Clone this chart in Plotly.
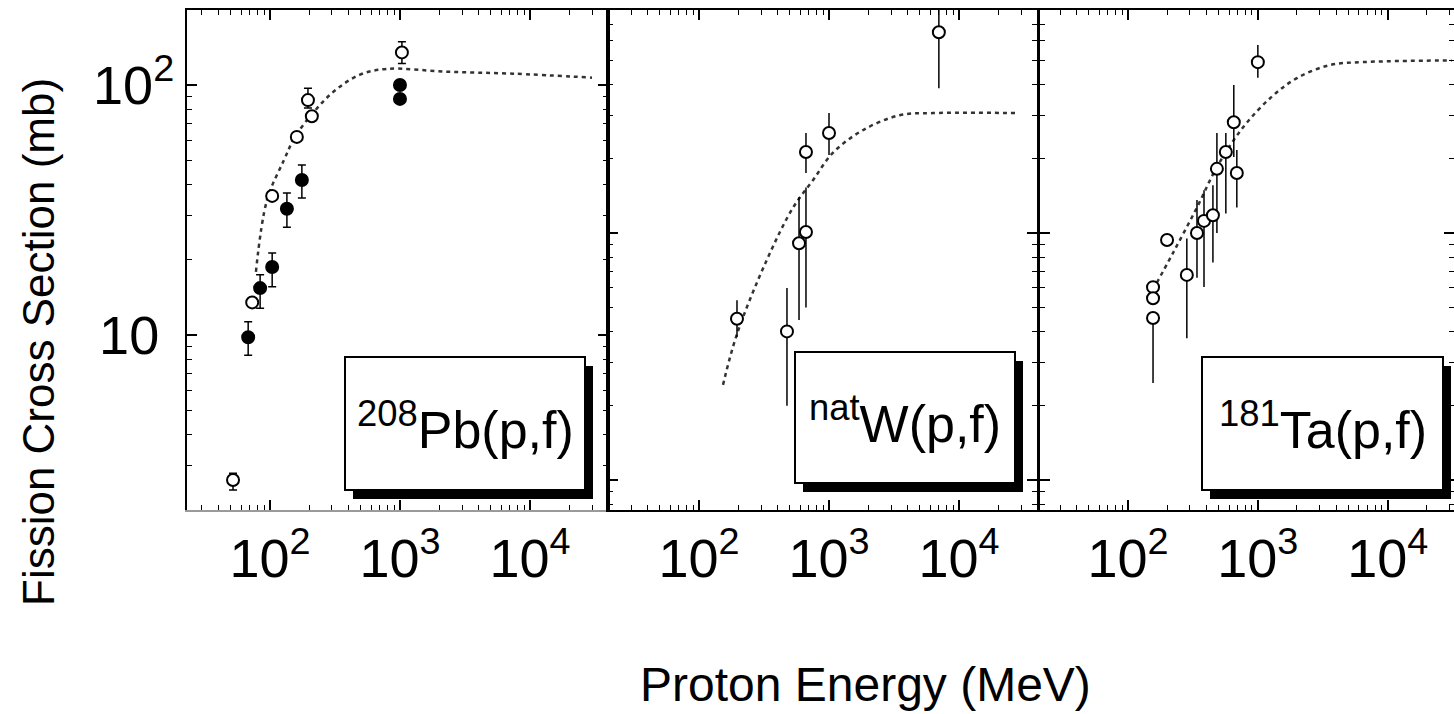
import plotly.graph_objects as go

# -- Data --------------------------------------------------------------------
# 208Pb(p,f): open and filled symbols, with error-bar ends, plus the calculation
PB_OPEN_E  = [52, 73, 104, 161, 196, 210, 1035]
PB_OPEN_S  = [2.63, 13.5, 36, 62, 87, 75, 135]
PB_OPEN_HI = [2.8, 13.5, 36, 62, 97, 75, 149]
PB_OPEN_LO = [2.4, 13.5, 36, 62, 81, 75, 122]

PB_FILL_E  = [68, 84, 104, 135, 176, 1000, 1000]
PB_FILL_S  = [9.8, 15.4, 18.7, 32, 41.7, 100, 88]
PB_FILL_HI = [11.3, 17.4, 21.3, 37, 47.9, 100, 88]
PB_FILL_LO = [8.3, 12.8, 15.6, 27, 35.3, 100, 88]

PB_CALC_E  = [78, 95, 128, 156, 222, 316, 493, 794, 2300, 7400, 30000]
PB_CALC_S  = [17.9, 34.7, 50, 62, 79, 95, 110, 116, 113, 111, 107]

# natW(p,f)
W_E  = [196, 475, 588, 665, 665, 1000, 7000]
W_S  = [4.5, 4.0, 9.1, 10.1, 21.3, 25.4, 65]
W_HI = [5.35, 6.0, 14.0, 15.3, 25.4, 30.6, 80]
W_LO = [3.8, 2.0, 4.45, 5.0, 17.5, 20.7, 38.6]

W_CALC_E = [153, 196, 333, 530, 755, 1070, 1800, 3500, 6300, 28000]
W_CALC_S = [2.43, 3.9, 7.8, 12.7, 16.4, 21.1, 26, 30, 30.6, 30.6]

# 181Ta(p,f)
TA_E  = [156, 156, 156, 200, 284, 340, 385, 451, 484, 567, 653, 689, 1000]
TA_S  = [6.04, 5.45, 4.53, 9.37, 6.77, 10.0, 11.2, 11.8, 18.2, 21.3, 28.1, 17.5, 49.2]
TA_HI = [6.04, 5.45, 4.53, 9.37, 9.5, 13.6, 14.9, 15.6, 25.4, 25.4, 39.8, 21.7, 57.7]
TA_LO = [6.04, 5.45, 2.47, 9.37, 3.75, 6.6, 6.05, 7.6, 10.0, 12.0, 20.3, 12.7, 42.5]

TA_CALC_E = [156, 222, 340, 484, 770, 1270, 2000, 3600, 6400, 31000]
TA_CALC_S = [5.9, 8.3, 12.7, 18.5, 26.8, 35.5, 42.4, 47.9, 49.2, 50]

LABELS = ["<sup>208</sup>Pb(p,f)", "<sup>nat</sup>W(p,f)", "<sup>181</sup>Ta(p,f)"]

X_TICKS     = [100, 1000, 10000]
X_TICK_TEXT = ["10<sup>2</sup>", "10<sup>3</sup>", "10<sup>4</sup>"]
Y_TICK_TEXT = ["10&nbsp;", "10<sup>2</sup>"]

# -- Style --------------------------------------------------------------------
W, H = 1454, 714
FONT = "Liberation Sans, Arial, sans-serif"
INK = "#000000"


def px_x(x):
    return x / W


def px_y(y):
    return 1 - y / H


def minor_vals(lo, hi):
    return [m * 10 ** d for d in range(lo, hi) for m in range(2, 10)]


def errs(s, hi, lo):
    return [h - v for v, h in zip(s, hi)], [v - l for v, l in zip(s, lo)]


fig = go.Figure()


def add_points(x, y, hi, lo, filled, xa, ya, cap):
    plus, minus = errs(y, hi, lo)
    fig.add_trace(go.Scatter(
        x=x, y=y, mode="markers", xaxis=xa, yaxis=ya,
        marker=dict(size=12, color=INK if filled else "white",
                    line=dict(color=INK, width=2)),
        error_y=dict(type="data", symmetric=False, array=plus, arrayminus=minus,
                     color=INK, thickness=1.5, width=cap),
        showlegend=False,
    ))


def add_curve(x, y, xa, ya):
    fig.add_trace(go.Scatter(
        x=x, y=y, mode="lines", xaxis=xa, yaxis=ya, line_shape="spline",
        line=dict(color="#333333", width=2.5, dash="4px,4px"),
        showlegend=False,
    ))


add_curve(PB_CALC_E, PB_CALC_S, "x", "y")
add_points(PB_OPEN_E, PB_OPEN_S, PB_OPEN_HI, PB_OPEN_LO, False, "x", "y", 4)
add_points(PB_FILL_E, PB_FILL_S, PB_FILL_HI, PB_FILL_LO, True, "x", "y", 4)

add_curve(W_CALC_E, W_CALC_S, "x2", "y2")
add_points(W_E, W_S, W_HI, W_LO, False, "x2", "y2", 0)

add_curve(TA_CALC_E, TA_CALC_S, "x3", "y3")
add_points(TA_E, TA_S, TA_HI, TA_LO, False, "x3", "y3", 0)

# -- Axes ---------------------------------------------------------------------
panels_x = [(187, 608, [1.362, 4.6]), (608, 1037, [1.30, 4.6]), (1040, 1454, [1.323, 4.51])]
panels_y = [([0.30, 2.30], [10, 100]), ([-0.121, 1.903], [1, 10]), ([-0.121, 1.903], [1, 10])]
y_dom = [px_y(510), px_y(10)]

common = dict(
    type="log", showline=True, linecolor=INK, linewidth=2,
    ticks="inside", ticklen=10, tickwidth=1.5, tickcolor=INK, showgrid=False,
    zeroline=False, tickfont=dict(family=FONT, size=54, color=INK),
)


def minor(vals):
    return dict(tickvals=vals, ticks="inside", ticklen=5, tickcolor=INK, tickwidth=1.2)


for i, ((x0, x1, xr), (yr, ymaj)) in enumerate(zip(panels_x, panels_y)):
    n = "" if i == 0 else str(i + 1)
    t = str(i + 4)
    xdom = [px_x(x0), px_x(x1)]
    # bottom / left axes carry the labels
    fig.layout["xaxis" + n] = dict(
        common, domain=xdom, range=xr, anchor="y" + n,
        tickvals=X_TICKS, ticktext=X_TICK_TEXT, minor=minor(minor_vals(1, 5)),
        linecolor="#9a9a9a" if i == 0 else INK, linewidth=1.5 if i == 0 else 2,
    )
    fig.layout["yaxis" + n] = dict(
        common, domain=y_dom, range=yr, anchor="x" + n,
        tickvals=ymaj, ticktext=Y_TICK_TEXT,
        showticklabels=(i == 0), minor=minor(minor_vals(-1, 3)),
    )
    # top / right axes: ticks only (an empty trace makes plotly draw them)
    fig.layout["xaxis" + t] = dict(
        common, domain=xdom, range=xr, anchor="y" + t, overlaying="x" + n,
        side="top", tickvals=X_TICKS, showticklabels=False,
        minor=minor(minor_vals(1, 5)),
    )
    fig.layout["yaxis" + t] = dict(
        common, domain=y_dom, range=yr, anchor="x" + t, overlaying="y" + n,
        side="right", tickvals=ymaj, showticklabels=False,
        minor=minor(minor_vals(-1, 3)),
    )
    fig.add_trace(go.Scatter(x=[], y=[], xaxis="x" + t, yaxis="y" + t,
                             showlegend=False, hoverinfo="skip"))

# -- Reaction label boxes with drop shadow ------------------------------------
boxes = [(345, 357, 585, 490), (795, 352, 1015, 483), (1202, 357, 1443, 490)]
shapes = []
annotations = []
for (x0, y0, x1, y1), label in zip(boxes, LABELS):
    shapes.append(dict(type="rect", xref="paper", yref="paper", layer="above",
                       x0=px_x(x0 + 8), x1=px_x(x1 + 8), y0=px_y(y1 + 9), y1=px_y(y0 + 9),
                       fillcolor=INK, line=dict(width=0)))
    shapes.append(dict(type="rect", xref="paper", yref="paper", layer="above",
                       x0=px_x(x0), x1=px_x(x1), y0=px_y(y1), y1=px_y(y0),
                       fillcolor="white", line=dict(color=INK, width=2)))
    annotations.append(dict(xref="paper", yref="paper", showarrow=False,
                            xanchor="center", yanchor="middle",
                            x=px_x((x0 + x1) / 2), y=px_y((y0 + y1) / 2 + 2),
                            text=label, font=dict(family=FONT, size=52, color=INK)))

annotations.append(dict(xref="paper", yref="paper", showarrow=False, textangle=-90,
                        xanchor="center", yanchor="middle",
                        x=px_x(38), y=px_y(342), text="Fission Cross Section (mb)",
                        font=dict(family=FONT, size=44, color=INK)))
annotations.append(dict(xref="paper", yref="paper", showarrow=False,
                        xanchor="center", yanchor="middle",
                        x=px_x(865), y=px_y(684), text="Proton Energy (MeV)",
                        font=dict(family=FONT, size=48, color=INK)))

fig.update_layout(
    width=W, height=H, margin=dict(l=0, r=0, t=0, b=0),
    paper_bgcolor="white", plot_bgcolor="white",
    shapes=shapes, annotations=annotations,
    font=dict(family=FONT, color=INK),
)

# the page's default 8px body margin would shift the whole figure
fig.write_html("out.html", config={"displayModeBar": False},
               post_script="document.body.style.margin='0';")
